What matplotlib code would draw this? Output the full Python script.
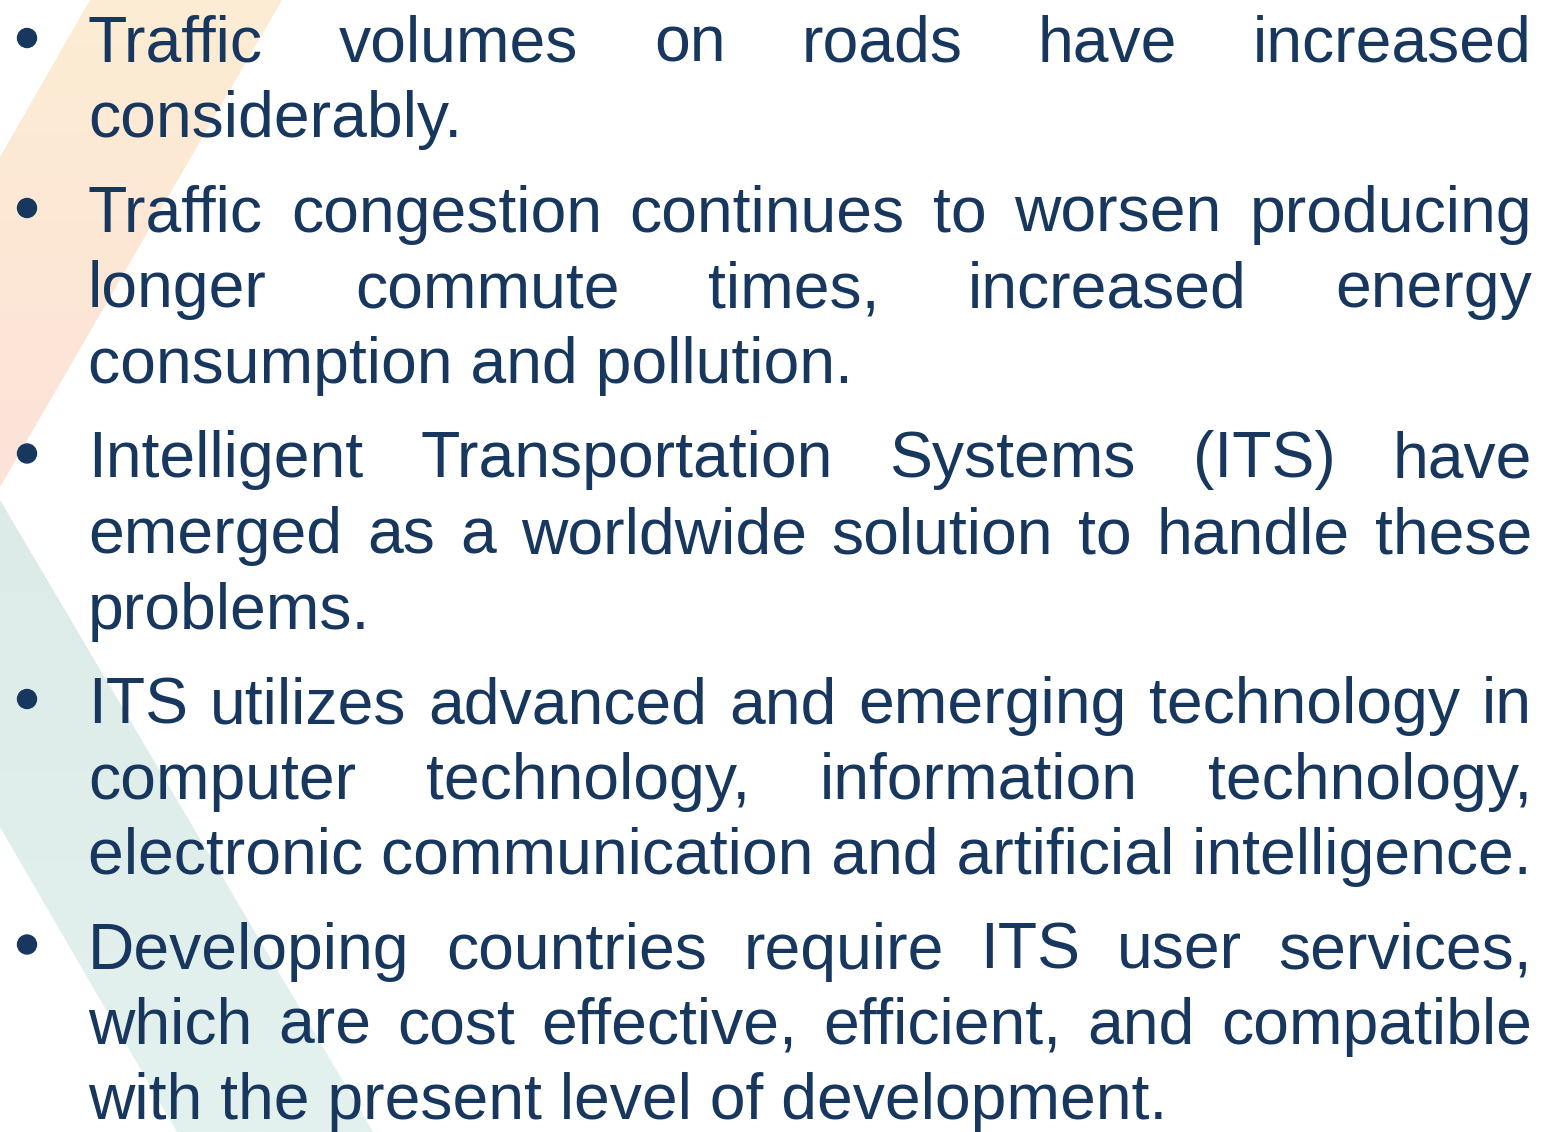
import numpy as np
import matplotlib.pyplot as plt
from matplotlib.patches import Polygon, Circle
from matplotlib.colors import to_rgb

W, H = 1541, 1132

# slide text, one list of wrapped lines per bullet
bullets = [
    ["Traffic volumes on roads have increased",
     "considerably."],
    ["Traffic congestion continues to worsen producing",
     "longer commute times, increased energy",
     "consumption and pollution."],
    ["Intelligent Transportation Systems (ITS) have",
     "emerged as a worldwide solution to handle these",
     "problems."],
    ["ITS utilizes advanced and emerging technology in",
     "computer technology, information technology,",
     "electronic communication and artificial intelligence."],
    ["Developing countries require ITS user services,",
     "which are cost effective, efficient, and compatible",
     "with the present level of development."],
]

text_color = '#17375E'
fs = 46.3
x_left, x_right = 88, 1532
first_base = 62
line_step = 75.5
para_gap = 94.5

fig = plt.figure(figsize=(W / 100, H / 100), dpi=100)
ax = fig.add_axes([0, 0, 1, 1])
ax.set_xlim(0, W)
ax.set_ylim(H, 0)
ax.axis('off')


def gradient_poly(verts, c_top, c_bot, y0, y1):
    t = np.linspace(0, 1, 256)[:, None, None]
    a, b = np.array(to_rgb(c_top)), np.array(to_rgb(c_bot))
    img = a * (1 - t) + b * t
    im = ax.imshow(img, extent=[0, W, y1, y0], aspect='auto', zorder=0)
    poly = Polygon(verts, closed=True, facecolor='none', edgecolor='none')
    ax.add_patch(poly)
    im.set_clip_path(poly)


# decorative stripes on the left
gradient_poly([(90, 0), (282, 0), (0, 487), (0, 157)], '#FDEDD3', '#FCE2D8', 0, 487)
gradient_poly([(0, 500), (373, 1132), (177, 1132), (0, 827)], '#DCEAE8', '#E3F1EF', 500, 1132)
ax.set_xlim(0, W)
ax.set_ylim(H, 0)

fig.canvas.draw()
renderer = fig.canvas.get_renderer()
font = dict(family=['Liberation Sans', 'DejaVu Sans'], fontsize=fs, color=text_color, va='baseline')

y = first_base
for para in bullets:
    ax.add_patch(Circle((27, y - 24), 9.5, color=text_color, zorder=3))
    for i, line in enumerate(para):
        words = line.split(' ')
        last = i == len(para) - 1
        if last:
            ax.text(x_left, y, line, ha='left', zorder=3, **font)
        else:
            arts = [ax.text(0, y, w, ha='left', zorder=3, **font) for w in words]
            widths = [a.get_window_extent(renderer).width for a in arts]
            gap = (x_right - x_left - sum(widths)) / (len(words) - 1)
            x = x_left
            for a, w in zip(arts, widths):
                a.set_x(x)
                x += w + gap
        y += line_step
    y += para_gap - line_step

fig.savefig('out.png', dpi=100, facecolor='white')
